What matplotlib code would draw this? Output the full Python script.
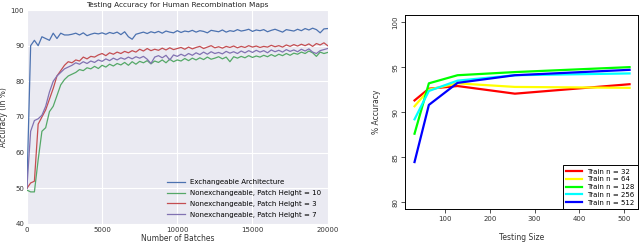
import matplotlib.pyplot as plt

# left panel: testing accuracy vs number of batches (one value every 250 batches)
batches = list(range(0, 20001, 250))

exchangeable = [50, 90, 91.5, 90, 92.5, 92, 91.5, 93.5, 92, 93.5, 93, 93, 93.2, 93.5, 93, 93.6,
                92.8, 93.2, 93.5, 93.3, 93.6, 93.2, 93.7, 93.4, 93.8, 93.1, 93.9, 92.5, 91.8, 93.2,
                93.5, 93.8, 93.4, 93.9, 93.6, 94.0, 93.5, 94.1, 93.8, 93.6, 94.2, 93.7, 94.1, 93.9,
                94.3, 93.8, 94.2, 94.0, 93.6, 94.3, 94.1, 93.9, 94.4, 93.8, 94.2, 94.0, 94.5, 94.1,
                94.3, 94.6, 94.0, 94.4, 94.2, 94.5, 93.9, 94.3, 94.6, 94.2, 93.8, 94.5, 94.3, 94.1,
                94.6, 94.2, 94.8, 94.4, 94.9, 94.5, 93.6, 94.7, 94.8]

patch10 = [49.5, 49, 49, 58, 66, 67, 71.5, 73, 76, 79, 80.5, 81.5, 82, 82.5, 83.3, 83, 83.8,
           83.5, 84.2, 83.6, 84.5, 84.0, 84.8, 84.3, 85.0, 84.6, 85.3, 84.5, 85.5, 84.8, 85.6,
           85.2, 85.8, 84.9, 85.7, 85.3, 86.0, 85.2, 86.2, 85.5, 86.0, 85.7, 86.4, 85.8, 86.5,
           86.0, 86.6, 86.1, 86.8, 86.2, 86.5, 86.9, 86.3, 86.8, 85.5, 86.9, 86.5, 87.0, 86.6,
           87.2, 86.7, 87.1, 86.8, 87.3, 86.9, 87.5, 87.0, 87.6, 87.2, 87.8, 87.3, 87.9, 87.6,
           88.2, 87.8, 88.5, 88.0, 87.0, 88.2, 87.8, 88.1]

patch3 = [50, 51.5, 52, 68, 70, 72, 75, 78, 81.5, 83, 84.5, 85.5, 85.2, 86, 85.7, 86.8, 86.3,
          87, 86.8, 87.4, 87.8, 87.2, 88, 87.6, 88.2, 87.8, 88.4, 88.0, 88.6, 88.2, 89.0, 88.5,
          89.2, 88.6, 89.0, 88.7, 89.3, 88.8, 89.4, 88.9, 89.2, 89.5, 89.0, 89.6, 89.1, 89.5,
          89.8, 89.2, 89.6, 90.0, 89.4, 89.7, 89.3, 89.8, 89.5, 89.9, 89.4, 89.8, 89.5, 90.0,
          89.6, 89.9, 89.5, 89.8, 89.6, 90.1, 89.7, 90.0, 89.6, 90.2, 89.8, 90.3, 89.9, 90.4,
          90.0, 90.5, 89.8, 90.6, 90.2, 90.8, 90.0]

patch7 = [50, 66, 69, 69.5, 70.5, 73, 77, 80, 81.5, 82.5, 83.5, 84, 84.5, 85.2, 84.8, 85.5,
          85.0, 85.7, 85.3, 86.0, 85.6, 86.3, 85.8, 86.5, 86.0, 86.6, 86.2, 86.8, 86.3, 86.9,
          86.5, 87.0, 86.2, 85.0, 86.8, 87.2, 86.6, 87.3, 86.0, 87.4, 87.0, 87.6, 87.1, 87.8,
          87.3, 88.0, 87.5, 88.2, 87.6, 88.3, 87.8, 88.1, 87.7, 88.4, 87.9, 88.3, 87.8, 88.5,
          88.0, 88.6, 88.1, 88.7, 88.2, 88.6, 88.0, 88.8, 88.3, 88.7, 88.2, 88.9, 88.4, 88.8,
          88.3, 89.0, 88.5, 89.1, 88.2, 87.8, 88.6, 88.9, 89.2]

# right panel: accuracy vs testing size for several training sizes
test_sizes = [32, 64, 128, 256, 512]
train_32 = [91.3, 92.6, 92.9, 92.05, 93.1]
train_64 = [90.65, 92.5, 93.2, 92.8, 92.7]
train_128 = [87.6, 93.2, 94.1, 94.45, 95.0]
train_256 = [89.2, 92.35, 93.5, 94.1, 94.3]
train_512 = [84.45, 90.8, 93.25, 94.1, 94.7]

fig = plt.figure(figsize=(6.4, 2.44), dpi=100)

# ---- left ----
ax1 = fig.add_axes([0.042, 0.082, 0.470, 0.877])
ax1.set_facecolor('#EAEAF2')
for s in ax1.spines.values():
    s.set_visible(False)
ax1.grid(True, color='white', linewidth=0.8)
ax1.set_axisbelow(True)
ax1.plot(batches, exchangeable, color='#4C72B0', lw=0.9, label='Exchangeable Architecture')
ax1.plot(batches, patch10, color='#55A868', lw=0.9, label='Nonexchangeable, Patch Height = 10')
ax1.plot(batches, patch3, color='#C44E52', lw=0.9, label='Nonexchangeable, Patch Height = 3')
ax1.plot(batches, patch7, color='#8172B2', lw=0.9, label='Nonexchangeable, Patch Height = 7')
ax1.set_xlim(0, 20000)
ax1.set_ylim(40, 100)
ax1.set_xticks([0, 5000, 10000, 15000, 20000])
ax1.set_yticks(range(40, 101, 10))
ax1.tick_params(length=0, labelsize=5, pad=2, colors='#333333')
ax1.set_title('Testing Accuracy for Human Recombination Maps', fontsize=5.3, pad=2, color='#222222')
ax1.set_xlabel('Number of Batches', fontsize=5.5, labelpad=1, color='#333333')
ax1.set_ylabel('Accuracy (in %)', fontsize=5.5, labelpad=2, color='#333333')
ax1.legend(loc='lower right', frameon=False, fontsize=5, handlelength=2.6,
           bbox_to_anchor=(1.0, 0.0), labelspacing=0.7)

# ---- right ----
ax2 = fig.add_axes([0.633, 0.143, 0.364, 0.795])
ax2.plot(test_sizes, train_32, color='red', lw=1.6, label='Train n = 32')
ax2.plot(test_sizes, train_64, color='yellow', lw=1.6, label='Train n = 64')
ax2.plot(test_sizes, train_128, color='#00FF00', lw=1.6, label='Train n = 128')
ax2.plot(test_sizes, train_256, color='cyan', lw=1.6, label='Train n = 256')
ax2.plot(test_sizes, train_512, color='blue', lw=1.6, label='Train n = 512')
ax2.set_xlim(11, 531)
ax2.set_ylim(79.22, 100.78)
ax2.set_xticks([100, 200, 300, 400, 500])
ax2.set_yticks([80, 85, 90, 95, 100])
ax2.tick_params(labelsize=5, length=3, width=0.6, pad=2, colors='#333333')
for lab in ax2.get_yticklabels():
    lab.set_rotation(90)
    lab.set_va('center')
for s in ax2.spines.values():
    s.set_linewidth(0.7)
ax2.set_xlabel('Testing Size', fontsize=5.5, labelpad=8, color='#333333')
ax2.set_ylabel('% Accuracy', fontsize=5.5, labelpad=8, color='#333333')
leg = ax2.legend(loc='lower right', fontsize=5, fancybox=False, framealpha=1,
                 edgecolor='black', handlelength=2.2, labelspacing=0.25, borderpad=0.5,
                 borderaxespad=0)
leg.get_frame().set_linewidth(0.7)

plt.savefig('out.png', dpi=100)
